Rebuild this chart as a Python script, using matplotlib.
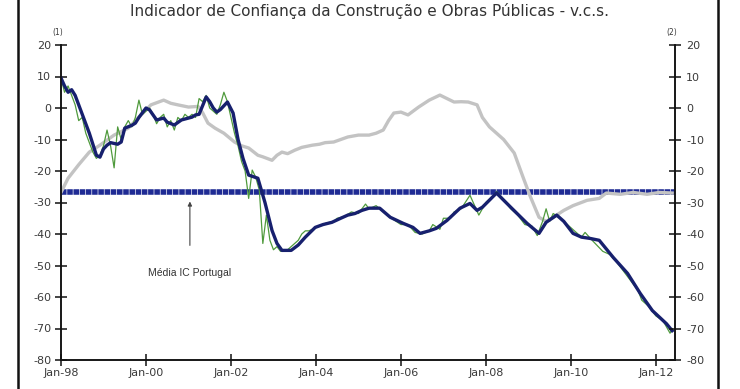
import matplotlib
matplotlib.use("Agg")
import matplotlib.pyplot as plt
from matplotlib.lines import Line2D

plt.rcParams["axes.unicode_minus"] = False

# x = months since Jan-1998
tick_months = [0, 24, 48, 72, 96, 120, 144, 168]
tick_labels = ["Jan-98", "Jan-00", "Jan-02", "Jan-04", "Jan-06", "Jan-08", "Jan-10", "Jan-12"]
y_ticks = [20, 10, 0, -10, -20, -30, -40, -50, -60, -70, -80]

# Navy: IC Construção Portugal (smoothed)
navy_m = [0, 1, 2, 3, 4, 6, 8, 10, 11, 12, 13, 14, 16, 17, 18, 20, 21, 22, 24, 25, 27, 29, 30, 32, 34, 36, 37, 38, 39,
          41, 42, 43, 44, 45, 47, 48.6, 50, 51.4, 53, 55.6, 57.6, 59.6, 61, 62.4, 65, 67, 69, 71.8, 74, 76.5, 79, 81,
          83, 85, 87, 90, 93, 96.6, 99.4, 101.4, 104, 106, 109, 112.7, 115.5, 117.5, 119, 123, 127, 131.6, 135, 137,
          140, 142, 144.6, 147, 149.4, 152, 156, 160, 163.6, 167, 171, 172.6]
navy_v = [9.5, 7, 5, 5.8, 4, -2, -8, -15, -15.6, -13, -11.8, -11, -11.5, -10.8, -6.4, -5.5, -4.8, -3, 0, -0.6, -3.8,
          -3.2, -4.5, -5.4, -3.8, -3.2, -2.9, -2.2, -2, 3.5, 2, 0, -1.3, -0.5, 1.9, -1.6, -10, -16, -21.3, -22.3, -30,
          -38.9, -43, -45.2, -45.2, -43.5, -41, -37.9, -37, -36.3, -35, -34, -33.5, -32.5, -31.8, -31.8, -34.7, -36.6,
          -37.9, -39.8, -39, -38.2, -35.7, -31.8, -30.3, -32.5, -31.5, -27, -31.5, -36.6, -39.8, -36.3, -34, -36,
          -39.8, -41, -41.4, -42, -47.5, -52.5, -58.9, -64.3, -68.5, -70.7]

# Green: monthly raw values
green_m = [0, 1, 2, 3, 4, 5, 6, 7, 8, 9, 10, 11, 12, 13, 14, 15, 16, 17, 18, 19, 20, 21, 22, 23, 24, 25, 26, 27, 28,
           29, 30, 31, 32, 33, 34, 35, 36, 37, 38, 39, 40, 41, 42, 43, 44, 45, 46, 47, 48, 49, 50, 51, 52, 53, 54, 55,
           56, 57, 58, 59, 60, 61, 62, 63, 64, 65, 66, 67, 68, 69, 70, 72, 73, 75, 77, 78, 80, 82, 84, 85, 86, 87, 89,
           91, 92, 94, 96, 98, 100, 102, 104, 105, 107, 108, 110, 111, 113, 115.5, 118, 120, 122, 123, 125, 127, 129,
           131, 133, 134.5, 136, 137, 138, 139, 141, 143, 145, 147, 148, 150, 153, 155, 157, 159, 161, 163, 164, 166,
           168, 170, 172, 172.6]
green_v = [9.5, 5, 7, 4, 1, -4, -3, -8, -11, -14, -16, -15, -12, -7, -12, -19, -6, -10, -6, -4, -6, -3, 2.5, -2, -1,
           0, -2, -5, -3, -2, -6, -4, -7, -3, -4, -2, -3, -2, -3, 3, 2, 4, 0, -1, -2, 1, 5, 2, -3, -8, -12, -17, -20,
           -28.7, -19.7, -22, -26, -43, -34, -42, -45, -44, -45.5, -45, -45, -44, -43, -42, -40, -39, -39, -38, -37.5,
           -36.5, -36, -35, -34.5, -33, -33.5, -32, -30.5, -32, -31, -33, -34, -35.5, -37, -37, -39.5, -40, -39, -37,
           -38.5, -35, -35, -33, -32, -27.7, -34, -30, -28, -26.5, -29, -32, -34, -37, -37.5, -40.5, -36, -32, -36,
           -33.5, -35, -37, -39, -41, -39.5, -42, -45.5, -46.5, -49, -52, -55, -58, -61, -63, -66, -67.5, -71.5, -70]

# Gray: right axis series
gray_m = [0, 2, 5, 8, 11, 15, 19, 22.6, 25.4, 29, 31, 33, 36, 38.7, 40, 41.5, 43.5, 46, 49, 51, 53, 55.6, 57, 59.6,
          61, 62.4, 64, 66, 68, 71, 73, 74.6, 77, 79, 81, 84, 87, 89, 91, 92.5, 94, 96, 98, 101, 104, 107, 109, 111,
          113, 115, 117.5, 119, 121, 125, 128, 130.5, 132.5, 135, 137, 139, 142, 144.6, 148.6, 152, 154, 158, 161.6,
          165.5, 169, 172.6]
gray_v = [-26.8, -22.3, -18, -14, -11.8, -8.6, -6.4, -2.2, 1, 2.5, 1.5, 1, 0.3, 0.5, -1.5, -4.8, -6.4, -8, -10.8, -12,
          -12.7, -15, -15.5, -16.6, -15, -14, -14.5, -13.4, -12.5, -11.8, -11.5, -11, -10.8, -10, -9.2, -8.6, -8.6, -8,
          -7, -4, -1.6, -1.3, -2.2, 0.3, 2.5, 4.1, 3, 1.9, 2, 1.9, 1, -3, -6, -10, -14.3, -22, -28, -34.7, -36, -34.7,
          -32.5, -31, -29.3, -28.7, -27, -27.4, -26.8, -27.4, -26.8, -27]

mean_ic = -26.8

fig = plt.figure(figsize=(7.4, 3.89), dpi=100)
ax = fig.add_axes([61 / 740, 1 - 360 / 389, (675 - 61) / 740, (360 - 45) / 389])
ax2 = ax.twinx()

txt_col = "#3a3a3a"
ax.axhline(mean_ic, color="#1f2b94", lw=4.0, ls=(0, (1.0, 0.12)), zorder=1)
ax.plot(gray_m, gray_v, color="#c3c3c3", lw=2.4, zorder=2)
ax.plot(green_m, green_v, color="#4f9a3c", lw=0.9, zorder=3)
ax.plot(navy_m, navy_v, color="#17206e", lw=2.4, zorder=4)

ax.set_xlim(0, 173.4)
ax.set_ylim(-80, 20)
ax2.set_ylim(-80, 20)
ax.set_xticks(tick_months)
ax.set_xticklabels(tick_labels)
ax.set_yticks(y_ticks)
ax2.set_yticks(y_ticks)

for a in (ax, ax2):
    a.spines["top"].set_visible(False)
    for s in a.spines.values():
        s.set_linewidth(1.1)
        s.set_color("#111111")
ax.spines["right"].set_visible(True)
ax.tick_params(axis="both", direction="inout", length=8, width=1.1, colors="#111111",
               labelcolor=txt_col, labelsize=8)
ax.tick_params(axis="x", pad=2)
ax.tick_params(axis="y", pad=3)
ax2.tick_params(axis="y", direction="inout", length=8, width=1.1, colors="#111111",
                labelcolor=txt_col, labelsize=8, pad=4)

ax.annotate("", xy=(36.4, -28.8), xytext=(36.4, -44.5),
            arrowprops=dict(arrowstyle="-|>", color="#444444", lw=0.8, mutation_scale=6), zorder=5)
ax.text(36.4, -52.5, "Média IC Portugal", ha="center", va="center", fontsize=7.5,
        family="Liberation Sans", color="#333333")

fig.text(0.5, 1 - 11 / 389, "Indicador de Confiança da Construção e Obras Públicas - v.c.s.",
         ha="center", va="center", fontsize=11, color="#333333")
fig.text(58 / 740, 1 - 33 / 389, "(1)", ha="center", va="center", fontsize=5.5, color=txt_col)
fig.text(672 / 740, 1 - 33 / 389, "(2)", ha="center", va="center", fontsize=5.5, color=txt_col)

for xp in (18, 718):
    fig.add_artist(Line2D([xp / 740, xp / 740], [0, 1], color="#111111", lw=1.8))

fig.savefig("out.png", dpi=100)
